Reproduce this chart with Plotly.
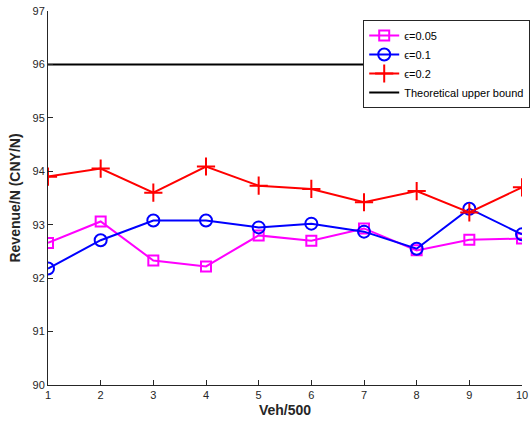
import plotly.graph_objects as go

veh = [1, 2, 3, 4, 5, 6, 7, 8, 9, 10]
eps005 = [92.66, 93.06, 92.33, 92.22, 92.80, 92.70, 92.93, 92.52, 92.72, 92.74]
eps01 = [92.18, 92.71, 93.08, 93.08, 92.95, 93.02, 92.87, 92.55, 93.30, 92.82]
eps02 = [93.90, 94.05, 93.60, 94.09, 93.73, 93.67, 93.42, 93.63, 93.23, 93.70]
upper = [96, 96, 96, 96, 96, 96, 96, 96, 96, 96]
yticks = [90, 91, 92, 93, 94, 95, 96, 97]

fig = go.Figure()
fig.add_trace(go.Scatter(x=veh, y=eps005, name="ϵ=0.05", mode="lines+markers",
                         line=dict(color="#ff00ff", width=2),
                         marker=dict(symbol="square-open", size=10, color="#ff00ff", line=dict(width=2))))
fig.add_trace(go.Scatter(x=veh, y=eps01, name="ϵ=0.1", mode="lines+markers",
                         line=dict(color="#0000ff", width=2),
                         marker=dict(symbol="circle-open", size=12, color="#0000ff", line=dict(width=2))))
fig.add_trace(go.Scatter(x=veh, y=eps02, name="ϵ=0.2", mode="lines+markers",
                         line=dict(color="#ff0000", width=2),
                         marker=dict(symbol="cross-thin", size=13, color="#ff0000", line=dict(width=2, color="#ff0000"))))
fig.add_trace(go.Scatter(x=veh, y=upper, name="Theoretical upper bound", mode="lines",
                         line=dict(color="#000000", width=2)))

axis_common = dict(showline=True, linecolor="#262626", linewidth=1, ticks="inside", ticklen=5,
                   tickcolor="#262626", showgrid=False, zeroline=False, mirror=False,
                   automargin=False,
                   tickfont=dict(family="Liberation Sans, Arial", size=11, color="#262626"))

fig.update_layout(
    width=531, height=423,
    margin=dict(l=48, r=9, t=11, b=38, autoexpand=False),
    paper_bgcolor="white", plot_bgcolor="white",
    showlegend=True,
    legend=dict(x=0.665, y=0.976, xanchor="left", yanchor="top",
                bgcolor="white", bordercolor="#262626", borderwidth=1,
                font=dict(family="Liberation Sans, Arial", size=11, color="#000000"),
                tracegroupgap=0, itemwidth=30),
    xaxis=dict(range=[1, 10], tickvals=veh, **axis_common,
               title=dict(text="<b>Veh/500</b>", standoff=4,
                          font=dict(family="Liberation Sans, Arial", size=14, color="#262626"))),
    yaxis=dict(range=[90, 97], tickvals=yticks, **axis_common,
               title=dict(text="<b>Revenue/N (CNY/N)</b>", standoff=8,
                          font=dict(family="Liberation Sans, Arial", size=14, color="#262626"))),
)

fig.write_html("out.html")
